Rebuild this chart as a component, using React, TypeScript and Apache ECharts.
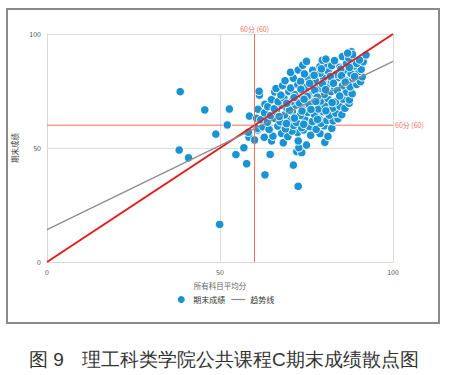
import React, { useEffect, useRef } from "react";
import * as echarts from "echarts";

const xTicks = [0, 50, 100];
const refValue = 60;
const refLabel = "60分 (60)";
const trendLine: number[][] = [[0, 14.2], [100, 88]];
const diagonal: number[][] = [[0, 0], [100, 100]];
const hRefLine: number[][] = [[0, refValue], [100, refValue]];

const outliers: number[][] = [
  [38.5, 74.7], [45.6, 66.7], [52.7, 67.1], [52.1, 60.1], [48.8, 56.1], [38.2, 49.1], [40.9, 45.7],
  [49.9, 16.5], [54.6, 47.1], [57.7, 43.1], [56.9, 50.1], [58.4, 54.7], [60.0, 53.5], [63.0, 38.2],
  [64.5, 47.2], [62.8, 54.7], [64.9, 53.1], [60.9, 57.9], [58.5, 64.0], [61.0, 67.0], [63.0, 69.2],
  [61.4, 73.2], [61.3, 74.9], [71.2, 42.5], [72.6, 33.2], [72.2, 48.4], [73.6, 48.0], [72.8, 50.1],
  [75.0, 51.3], [72.6, 53.1], [80.3, 52.5], [60.6, 63.0], [58.2, 56.9], [60.8, 58.6], [68.3, 52.3],
];

const cluster: number[][] = [
  [65.3, 55.2], [67.8, 56.4], [69.6, 55.0], [72.4, 56.8], [76.2, 55.6], [78.9, 56.3], [81.2, 55.1], [70.8, 57.4], [74.1, 57.9],
  [62.4, 59.3], [64.2, 58.1], [66.7, 59.6], [68.9, 58.4], [71.3, 59.9], [73.6, 58.9], [75.9, 59.4], [77.8, 58.2], [80.1, 59.7], [82.3, 58.6], [79.2, 60.8],
  [61.8, 62.4], [63.7, 61.3], [65.9, 62.9], [67.4, 61.5], [69.8, 62.6], [72.1, 61.2], [74.5, 62.8], [76.7, 61.6], [78.6, 63.1], [80.9, 62.1], [82.7, 61.9], [84.1, 62.8],
  [62.9, 65.4], [64.6, 64.2], [66.3, 65.8], [68.7, 64.5], [70.9, 65.9], [73.2, 64.3], [75.4, 65.6], [77.3, 64.7], [79.8, 65.9], [81.6, 64.4], [83.5, 65.3], [85.2, 64.6],
  [63.8, 68.1], [65.7, 67.2], [67.9, 68.7], [69.4, 67.3], [71.8, 68.9], [73.9, 67.6], [76.1, 68.4], [78.4, 67.1], [80.3, 68.8], [82.6, 67.5], [84.7, 68.3], [86.1, 67.4], [87.3, 69.6],
  [64.9, 71.2], [66.8, 70.3], [68.5, 71.8], [70.6, 70.4], [72.7, 71.5], [74.8, 70.2], [76.9, 71.9], [79.1, 70.6], [81.2, 71.7], [83.4, 70.3], [85.6, 71.4], [87.4, 71.1],
  [65.8, 74.6], [67.6, 73.2], [69.9, 74.8], [71.6, 73.4], [73.8, 74.9], [75.7, 73.1], [77.9, 74.3], [80.2, 73.5], [82.1, 74.7], [84.3, 73.3], [86.5, 74.5], [88.2, 73.8],
  [66.2, 76.1], [68.1, 77.4], [70.4, 76.3], [72.5, 77.8], [74.6, 76.5], [76.8, 77.6], [78.7, 76.2], [81.1, 77.9], [83.2, 76.4], [85.4, 77.3], [87.6, 76.8], [89.5, 77.9],
  [68.8, 79.5], [71.2, 80.6], [73.3, 79.2], [75.5, 80.9], [77.6, 79.4], [79.9, 80.7], [82.2, 79.3], [84.1, 80.8], [86.3, 79.6], [88.4, 80.4], [90.6, 79.1], [91.1, 81.2],
  [70.4, 83.2], [72.6, 84.2], [74.4, 82.5], [76.8, 84.1], [78.9, 82.8], [81.3, 83.7], [83.7, 82.4], [85.8, 83.9], [87.9, 82.6], [90.2, 83.6], [90.8, 84.5],
  [73.9, 86.3], [78.9, 85.7], [80.8, 86.9], [82.3, 86.1], [84.6, 85.4], [86.6, 87.1], [88.7, 85.9], [89.5, 87.1], [91.4, 87.8],
  [75.0, 88.0], [79.6, 88.5], [80.6, 89.0], [83.1, 88.3], [85.4, 90.1], [87.2, 89.4], [90.3, 88.6],
  [88.0, 92.2], [88.3, 91.0], [92.2, 90.8], [86.9, 91.6],
  [70.1, 66.6], [72.9, 69.8], [75.2, 72.6], [77.4, 75.3], [79.6, 78.1], [81.9, 81.4], [84.9, 84.6], [69.2, 60.7],
  [71.5, 63.1], [73.7, 66.2], [75.8, 69.1], [78.1, 72.3], [80.5, 75.6], [82.8, 78.4], [85.1, 81.7], [87.4, 85.3],
  [67.1, 63.8], [69.3, 69.6], [71.4, 72.1], [73.4, 75.8], [75.9, 78.3], [77.2, 81.9], [79.3, 84.7], [83.9, 75.1],
  [86.2, 78.9], [88.9, 81.3], [80.6, 66.3], [82.4, 69.9], [84.6, 72.8], [78.2, 62.5], [76.3, 66.9], [74.2, 60.4],
  [77.7, 70.4], [74.3, 71.4],
];

const scatterName = "期末成绩";
const trendName = "趋势线";
const xName = "所有科目平均分";
const yName = "期末成绩";
const captionNo = "图 9";
const captionText = "理工科类学院公共课程C期末成绩散点图";

const FONT = "'Noto Sans CJK SC', 'Noto Sans', sans-serif";

export default function App() {
  const ref = useRef<HTMLDivElement>(null);
  useEffect(() => {
    if (!ref.current) return;
    const chart = echarts.init(ref.current, undefined, { renderer: "svg" });
    const markColor = "#f4705f";
    const markLineStyle = { color: markColor, width: 1, type: "solid", opacity: 1 };
    chart.setOption({
      animation: false,
      backgroundColor: "#fff",
      textStyle: { fontFamily: FONT },
      grid: { left: 47, right: 57, top: 34, bottom: 113, containLabel: false },
      xAxis: {
        type: "value",
        min: xTicks[0],
        max: xTicks[xTicks.length - 1],
        interval: 50,
        name: xName,
        nameLocation: "middle",
        nameGap: 20,
        nameTextStyle: { fontSize: 7.5, color: "#666", fontFamily: FONT },
        axisLine: { show: true, lineStyle: { color: "#d9d9d9" } },
        axisTick: { show: false },
        axisLabel: { fontSize: 7, color: "#555", margin: 6 },
        splitLine: { show: true, lineStyle: { color: "#dcdcdc" } },
      },
      yAxis: {
        type: "value",
        min: 0,
        max: 100,
        interval: 50,
        name: yName,
        nameLocation: "middle",
        nameGap: 20,
        nameTextStyle: { fontSize: 7.5, color: "#444", fontFamily: FONT },
        axisLine: { show: true, lineStyle: { color: "#d9d9d9" } },
        axisTick: { show: false },
        axisLabel: { fontSize: 7, color: "#555", margin: 6 },
        splitLine: { show: true, lineStyle: { color: "#dcdcdc" } },
      },
      legend: {
        data: [
          { name: scatterName, icon: "circle" },
          { name: trendName, icon: "path://M0,0L14,0L14,1.2L0,1.2Z" },
        ],
        top: 294,
        padding: 0,
        left: "center",
        itemWidth: 14,
        itemHeight: 9,
        itemGap: 6,
        symbolKeepAspect: true,
        textStyle: { fontSize: 8, color: "#333", fontFamily: FONT },
      },
      graphic: [
        {
          type: "rect",
          shape: { x: 7, y: 9, width: 432, height: 314 },
          style: { fill: "none", stroke: "#8a8a8a", lineWidth: 2 },
          silent: true,
        },
        {
          type: "text",
          x: 29,
          y: 350,
          style: { text: captionNo, fontSize: 19, fill: "#333", font: `19px ${FONT}` },
        },
        {
          type: "text",
          x: 82,
          y: 350,
          style: { text: captionText, fontSize: 19, fill: "#333", font: `19px ${FONT}` },
        },
      ],
      series: [
        {
          name: "参考线",
          type: "line",
          data: diagonal,
          symbol: "none",
          silent: true,
          lineStyle: { color: "#e31b1b", width: 2 },
          itemStyle: { color: "#e31b1b" },
          z: 4,
        },
        {
          name: trendName,
          type: "line",
          data: trendLine,
          symbol: "none",
          showSymbol: false,
          silent: true,
          lineStyle: { color: "#8c8c8c", width: 1.2 },
          itemStyle: { color: "#8c8c8c" },
          z: 4,
        },
        {
          name: "60分横线",
          type: "line",
          data: hRefLine,
          symbol: "none",
          silent: true,
          lineStyle: { color: markColor, width: 1 },
          itemStyle: { color: markColor },
          endLabel: {
            show: true,
            formatter: refLabel,
            color: markColor,
            fontSize: 7,
            distance: 2,
            fontFamily: FONT,
          },
          z: 2,
        },
        {
          name: scatterName,
          type: "scatter",
          data: [...outliers, ...cluster],
          symbolSize: 8.5,
          itemStyle: { color: "#1b93d2", borderColor: "#fff", borderWidth: 1, opacity: 1 },
          z: 3,
          markLine: {
            silent: true,
            symbol: "none",
            lineStyle: markLineStyle,
            label: {
              show: true,
              position: "end",
              formatter: refLabel,
              color: markColor,
              fontSize: 7,
              distance: 2,
              fontFamily: FONT,
            },
            data: [{ xAxis: refValue, lineStyle: markLineStyle }],
          },
        },
      ],
    });
    return () => chart.dispose();
  }, []);
  return (
    <div
      ref={ref}
      style={{ position: "absolute", left: 0, top: 0, width: 450, height: 375 }}
    />
  );
}
